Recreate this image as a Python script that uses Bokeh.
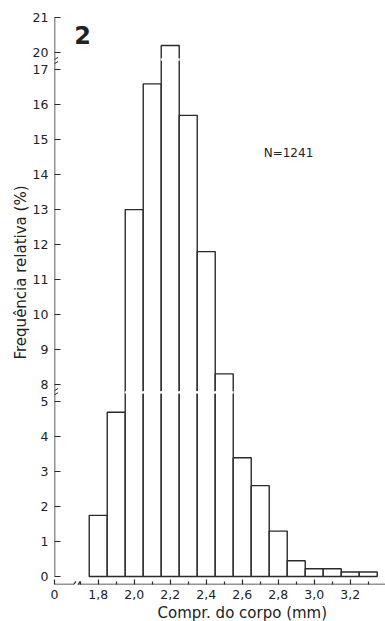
from bokeh.plotting import figure
from bokeh.models import FixedTicker, ColumnDataSource, Arrow, Range1d, Title
from bokeh.core.properties import value
from bokeh.embed import file_html
from bokeh.resources import INLINE

# ---- data ----
bin_centers = [1.8, 1.9, 2.0, 2.1, 2.2, 2.3, 2.4, 2.5, 2.6, 2.7, 2.8, 2.9, 3.0, 3.1, 3.2, 3.3]
freq_pct = [1.75, 4.7, 13.0, 16.6, 20.2, 15.7, 11.8, 8.3, 3.4, 2.6, 1.3, 0.45, 0.22, 0.22, 0.13, 0.13]
bin_width = 0.1
y_tick_values = [0, 1, 2, 3, 4, 5, 8, 9, 10, 11, 12, 13, 14, 15, 16, 17, 20, 21]
x_major_ticks = [1.8, 2.0, 2.2, 2.4, 2.6, 2.8, 3.0, 3.2]
x_minor_ticks = [1.7, 1.9, 2.1, 2.3, 2.5, 2.7, 2.9, 3.1, 3.3]
n_label = "N=1241"
panel_label = "2"
x_title = "Compr. do corpo (mm)"
y_title = "Frequência relativa (%)"

# broken-axis mapping: 0..5 as is, 8..17 shifted down 2.5, 20..21 shifted down 5
def to_disp(v):
    if v <= 5:
        return v
    if v <= 17:
        return v - 2.5
    return v - 5

LINE = "#2a2a2a"
TXT = "#222222"
FONT = "DejaVu Sans"

x0 = 1.557
x1 = 3.396
yb = -0.229
p = figure(width=385, height=621, output_backend="svg", toolbar_location=None,
           x_range=Range1d(x0, x1), y_range=Range1d(yb, 16.086),
           min_border_left=54, min_border_right=0, min_border_top=14, min_border_bottom=36)
p.outline_line_color = None
p.grid.grid_line_color = None
p.background_fill_color = "white"

src = ColumnDataSource(dict(x=bin_centers, top=[to_disp(v) for v in freq_pct]))
p.vbar(x="x", top="top", bottom=0, width=bin_width, source=src,
       fill_color="white", line_color=LINE, line_width=1.4)

# white gaps across tall bars at the breaks
tall = [c for c, v in zip(bin_centers, freq_pct) if v > 5]
p.rect(x=tall, y=[5.27] * len(tall), width=bin_width * 1.05, height=0.07,
       fill_color="white", line_color=None)
top = [c for c, v in zip(bin_centers, freq_pct) if v > 17]
p.rect(x=top, y=[14.8] * len(top), width=bin_width * 1.05, height=0.07,
       fill_color="white", line_color=None)

# y axis (ticks and tick labels)
ya = p.yaxis[0]
ya.ticker = FixedTicker(ticks=[to_disp(v) for v in y_tick_values], minor_ticks=[])
ya.major_label_overrides = {to_disp(v): str(v) for v in y_tick_values}
ya.bounds = (0, 16)
ya.major_tick_in = 6
ya.major_tick_out = 0
ya.minor_tick_in = 0
ya.minor_tick_out = 0
ya.axis_line_color = None
ya.major_tick_line_color = LINE
ya.major_tick_line_width = 1.2
ya.major_label_text_font = FONT
ya.major_label_text_font_size = "12.5px"
ya.major_label_text_color = TXT
ya.major_label_standoff = 6

# y title as a side title (allows shifting along the axis)
p.add_layout(Title(text=y_title, align="left", offset=225, text_font=FONT,
                   text_font_size="15px", text_font_style="normal", text_color=TXT,
                   standoff=0), "left")

# x axis
xa = p.xaxis[0]
xa.ticker = FixedTicker(ticks=[x0] + x_major_ticks, minor_ticks=x_minor_ticks)
xa.major_label_overrides = {x0: "0", **{t: f"{t:.1f}".replace(".", ",") for t in x_major_ticks}}
xa.major_tick_in = 5
xa.major_tick_out = 0
xa.minor_tick_in = 3
xa.minor_tick_out = 0
xa.axis_line_color = None
xa.major_tick_line_color = LINE
xa.minor_tick_line_color = LINE
xa.major_tick_line_width = 1.2
xa.minor_tick_line_width = 1.2
xa.major_label_text_font = FONT
xa.major_label_text_font_size = "12.5px"
xa.major_label_text_color = TXT
xa.major_label_standoff = 5

p.add_layout(Title(text=x_title, align="left", offset=103, text_font=FONT,
                   text_font_size="15px", text_font_style="normal", text_color=TXT,
                   standoff=0), "below")

# y axis line
p.add_layout(Arrow(end=None, x_start=x0, y_start=0, x_end=x0, y_end=16,
                   line_color=LINE, line_width=1.5))
# x axis line drawn in two pieces with a break
for xs, xe in [(x0, 1.664), (1.688, x1)]:
    p.add_layout(Arrow(end=None, x_start=xs, y_start=yb, x_end=xe, y_end=yb,
                       line_color=LINE, line_width=1.6))
for xm in [1.664, 1.688]:
    p.add_layout(Arrow(end=None, x_start=xm - 0.012, y_start=yb - 0.09, x_end=xm + 0.012, y_end=yb + 0.09,
                       line_color=LINE, line_width=1.2))
# y axis break marks
for yc in [5.2, 5.32, 14.68, 14.8]:
    p.add_layout(Arrow(end=None, x_start=x0 - 0.02, y_start=yc - 0.06, x_end=x0 + 0.02, y_end=yc + 0.06,
                       line_color=LINE, line_width=1.0))

p.text(x=[2.857], y=[12.11], text=[n_label], text_font=value(FONT), text_font_size="12px",
       text_align="center", text_baseline="middle", text_color=TXT)
p.text(x=[1.713], y=[15.49], text=[panel_label], text_font=value(FONT), text_font_size="24px",
       text_font_style="bold", text_align="center", text_baseline="middle", text_color=TXT)

open("out.html", "w").write(file_html(p, INLINE))
